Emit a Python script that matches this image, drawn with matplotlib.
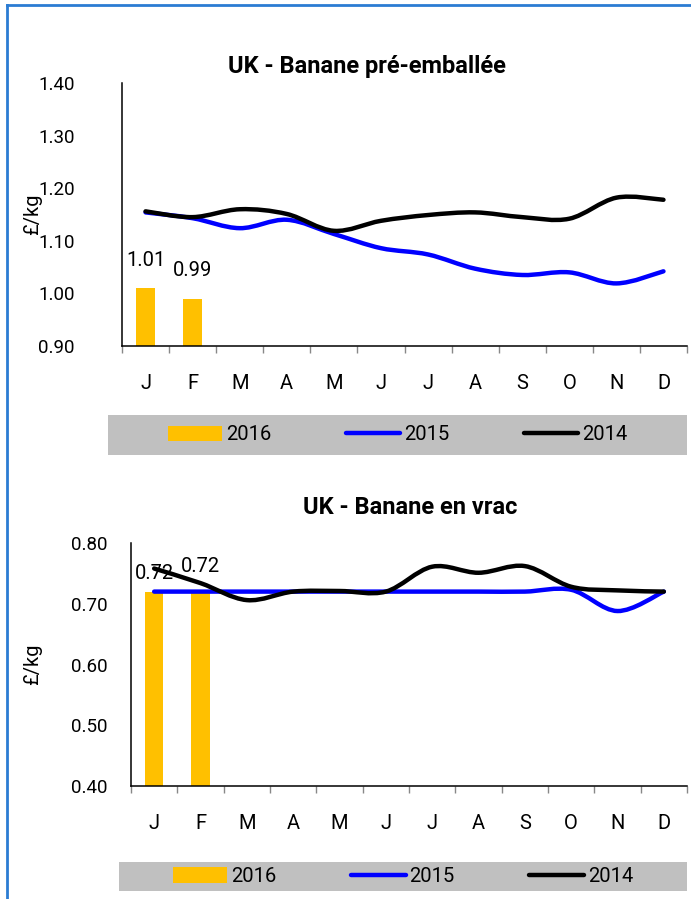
import matplotlib
matplotlib.use("Agg")
import matplotlib.pyplot as plt
from matplotlib.path import Path
from matplotlib.patches import PathPatch, Rectangle
from matplotlib.lines import Line2D
import numpy as np

plt.rcParams['font.family'] = ['Roboto', 'DejaVu Sans']

months = ['J', 'F', 'M', 'A', 'M', 'J', 'J', 'A', 'S', 'O', 'N', 'D']

# Top chart: UK - Banane pré-emballée
top_2016 = [1.01, 0.99]
top_2015 = [1.154, 1.143, 1.124, 1.140, 1.113, 1.086, 1.074, 1.047, 1.035, 1.040, 1.019, 1.042]
top_2014 = [1.156, 1.145, 1.160, 1.151, 1.119, 1.138, 1.149, 1.154, 1.145, 1.142, 1.182, 1.178]
top_yticks = [0.90, 1.00, 1.10, 1.20, 1.30, 1.40]

# Bottom chart: UK - Banane en vrac
bot_2016 = [0.72, 0.72]
bot_2015 = [0.72, 0.72, 0.72, 0.72, 0.72, 0.72, 0.72, 0.72, 0.72, 0.723, 0.688, 0.72]
bot_2014 = [0.758, 0.734, 0.706, 0.720, 0.721, 0.720, 0.761, 0.751, 0.762, 0.728, 0.722, 0.720]
bot_yticks = [0.40, 0.50, 0.60, 0.70, 0.80]

titles = ['UK - Banane pré-emballée', 'UK - Banane en vrac']
series_names = ['2016', '2015', '2014']
ylabel = '£/kg'

W, H = 691, 899
fig = plt.figure(figsize=(W / 100, H / 100), dpi=100)

C_BAR = '#FFC000'
C_2015 = '#0000FF'
C_2014 = '#000000'
FS = 14.5
FS_Y = 13.5


def smooth_path(xs, ys):
    pts = np.column_stack([xs, ys]).astype(float)
    n = len(pts)
    verts = [pts[0]]
    codes = [Path.MOVETO]
    for i in range(n - 1):
        p0 = pts[i - 1] if i > 0 else pts[i]
        p1 = pts[i]
        p2 = pts[i + 1]
        p3 = pts[i + 2] if i + 2 < n else pts[i + 1]
        c1 = p1 + (p2 - p0) / 6.0
        c2 = p2 - (p3 - p1) / 6.0
        verts += [c1, c2, p2]
        codes += [Path.CURVE4] * 3
    return Path(verts, codes)


def px_axes(left, right, top, bottom):
    return fig.add_axes([left / W, (H - bottom) / H, (right - left) / W, (bottom - top) / H])


def draw_chart(ax, bars, s2015, s2014, yticks, ylim, ypad, ylabel_x, label_offsets):
    x = np.arange(len(months))
    ax.bar(x[:len(bars)], bars, width=0.4, color=C_BAR, zorder=2)
    for xs, ys, c in [(x, s2015, C_2015), (x, s2014, C_2014)]:
        ax.add_patch(PathPatch(smooth_path(xs, ys), facecolor='none', edgecolor=c,
                               lw=3.2, capstyle='round', joinstyle='round', zorder=3))
    for i, v in enumerate(bars):
        ax.annotate(f'{v:.2f}', (x[i], v), xytext=(0, label_offsets[i]),
                    textcoords='offset points', ha='center', va='center', fontsize=FS, zorder=4)
    ax.set_xlim(-0.5, len(months) - 0.5)
    ax.set_ylim(*ylim)
    ax.set_yticks(yticks)
    ax.set_yticklabels([f'{t:.2f}' for t in yticks])
    ax.set_xticks(x)
    ax.set_xticklabels(months)
    ax.set_xticks(np.arange(-0.5, len(months)), minor=True)
    ax.tick_params(axis='x', which='major', length=0, pad=20, labelsize=FS)
    ax.tick_params(axis='x', which='minor', length=5, width=1, color='#888888', direction='out')
    ax.tick_params(axis='y', length=0, pad=ypad, labelsize=FS_Y)
    for s in ['top', 'right']:
        ax.spines[s].set_visible(False)
    for s in ['left', 'bottom']:
        ax.spines[s].set_linewidth(1.1)
        ax.spines[s].set_color('black')
    ax.set_ylabel(ylabel, fontsize=FS)
    ax.yaxis.set_label_coords(ylabel_x, 0.5)


ax1 = px_axes(122, 687, 83, 346)
draw_chart(ax1, top_2016, top_2015, top_2014, top_yticks, (0.90, 1.40), 34, -0.1416, [20, 20])
ax2 = px_axes(131, 687, 543, 786)
draw_chart(ax2, bot_2016, bot_2015, bot_2014, bot_yticks, (0.40, 0.80), 17, -0.160, [13, 18])

fig.text(367 / W, 1 - 66 / H, titles[0], ha='center', va='center', fontsize=17, fontweight='bold')
fig.text(410 / W, 1 - 508 / H, titles[1], ha='center', va='center', fontsize=17, fontweight='bold')


def legend_box(left, right, top, bottom):
    fig.patches.append(Rectangle((left / W, 1 - bottom / H), (right - left) / W, (bottom - top) / H,
                                 transform=fig.transFigure, facecolor='#C0C0C0', edgecolor='none', zorder=0))
    handles = [Rectangle((0, 0), 1, 1, facecolor=C_BAR, edgecolor='none'),
               Line2D([], [], color=C_2015, lw=3.2, solid_capstyle='round'),
               Line2D([], [], color=C_2014, lw=3.2, solid_capstyle='round')]
    fig.legend(handles, series_names, loc='center',
               bbox_to_anchor=((left + right) / 2 / W, 1 - (top + bottom) / 2 / H),
               ncol=3, frameon=False, fontsize=FS, handlelength=2.7, handletextpad=0.2,
               columnspacing=3.7, handleheight=0.8)


legend_box(108, 687, 415, 455)
legend_box(119, 687, 862, 891)

# figure border (blue)
fig.lines.append(Line2D([6.5 / W, 6.5 / W], [0, 1 - 5 / H], transform=fig.transFigure, color='#2B7CD3', lw=2))
fig.lines.append(Line2D([6.5 / W, 1], [1 - 5 / H, 1 - 5 / H], transform=fig.transFigure, color='#2B7CD3', lw=2))

fig.savefig('out.png', dpi=100)
